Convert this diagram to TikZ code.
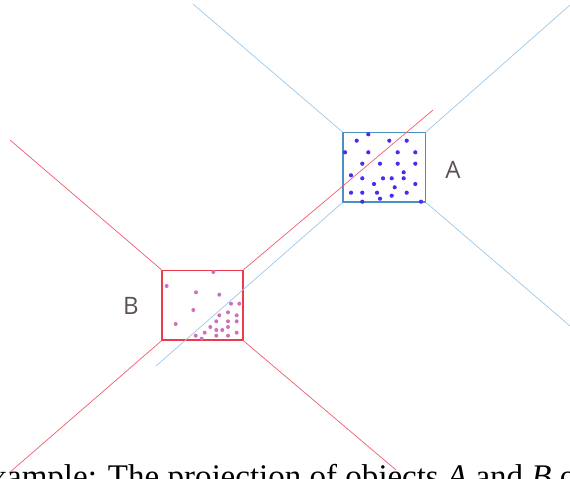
\documentclass[tikz,border=0pt]{standalone}
\usepackage{fontspec}
\setmainfont{Liberation Serif}
\newfontfamily\labelfont{Open Sans}
\definecolor{abox}{HTML}{4A90C2}
\definecolor{aline}{HTML}{9CC8E8}
\definecolor{adot}{HTML}{4B2BF0}
\definecolor{bbox}{HTML}{EE3A4A}
\definecolor{bline}{HTML}{F25C6E}
\definecolor{bdot}{HTML}{D070B8}
\definecolor{ink}{HTML}{5E5050}

\begin{document}
\begin{tikzpicture}[x=1pt,y=-1pt]
  \useasboundingbox (0,0) rectangle (570,479);
  \clip (0,0) rectangle (570,479);
  \node[draw=abox,line width=1.7pt,minimum width=82.5pt,minimum height=69.5pt,inner sep=0] (boxA) at (384.25,167.25) {};
  \node[draw=bbox,line width=1.7pt,minimum width=80.5pt,minimum height=69.5pt,inner sep=0] (boxB) at (202.5,305.25) {};
  \coordinate (a1) at (193,4);
  \coordinate (a2) at (570,5);
  \coordinate (a3) at (570,326);
  \coordinate (a4) at (156,366);
  \coordinate (b1) at (10,140);
  \coordinate (b2) at (433,110);
  \coordinate (b3) at (396,470);
  \coordinate (b4) at (9,473);
  \draw[aline,line width=0.7pt] (boxA.north west)--(a1);
  \draw[aline,line width=0.7pt] (boxA.north east)--(a2);
  \draw[aline,line width=0.7pt] (boxA.south east)--(a3);
  \draw[aline,line width=0.7pt] (boxA.south west)--(a4);
  \draw[bline,line width=0.7pt] (boxB.north west)--(b1);
  \draw[bline,line width=0.7pt] (boxB.north east)--(b2);
  \draw[bline,line width=0.7pt] (boxB.south east)--(b3);
  \draw[bline,line width=0.7pt] (boxB.south west)--(b4);
  \foreach \x/\y in {368.3/134.3,356.7/140.7,389.3/140.7,406.7/140.7,345/152.3,368.3/152.3,397.7/152.3,415.3/152.3,362.3/163.7,380/163.7,397.7/163.7,415.3/163.7,403.7/172.3,351/175.3,362.3/178.3,383/178.3,391.7/178.3,403.7/178.3,374/184,415.3/184,394.7/187.3,351/192.7,362.3/192.7,377/192.7,391.7/195.7,406.7/192.7,380/198.7,362.3/201.7,421/201.7}
    \fill[adot] (\x,\y) circle (2.1pt);
  \foreach \x/\y in {213.3/272,166.7/286,196/292.3,219.3/294.7,193.3/310,231/303.7,239.3/303.7,175.7/324,219.3/315.3,228/312.3,236.7/315.3,216.3/321.3,228/321.3,236.7/321.3,210.3/327,216.3/330,222.3/330,228/327,204.7/332.7,195.7/335.7,201.7/338.7,216.3/335.7,228/335.7,236.7/332.7}
    \fill[bdot] (\x,\y) circle (2pt);
  \node[text=ink,font=\labelfont\fontsize{24}{28}\selectfont] (labA) at (453,170) {A};
  \node[text=ink,font=\labelfont\fontsize{24}{28}\selectfont] (labB) at (131,306) {B};
  \node[anchor=base west,inner sep=0,font=\fontsize{33}{40}\selectfont] (caption) at (-29.7,487) {Example: The projection of objects \textit{A} and \textit{B} o};
\end{tikzpicture}
\end{document}
